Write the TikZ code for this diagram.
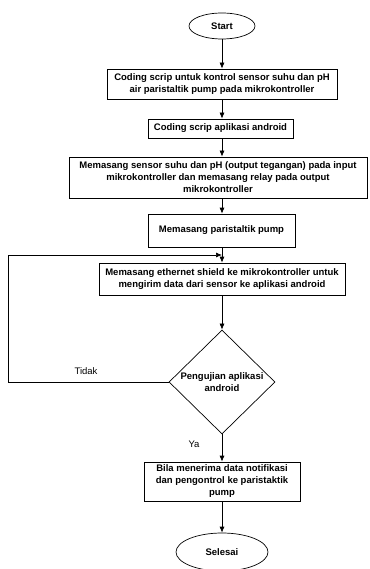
\documentclass[tikz,border=0pt]{standalone}
\usepackage{fontspec}
\setmainfont{Liberation Sans}
\usetikzlibrary{shapes.geometric, arrows.meta}

\tikzset{
  langkah/.style={draw, rectangle, align=center, inner sep=1pt, font=\fontsize{9.5}{12}\selectfont\bfseries},
  ujung/.style={draw, ellipse, inner sep=0pt, font=\fontsize{9.5}{12}\selectfont\bfseries},
  keputusan/.style={draw, diamond, aspect=1, inner sep=0pt, align=center, font=\fontsize{9.5}{12}\selectfont\bfseries},
  label/.style={font=\fontsize{9.5}{12}\selectfont},
  panah/.style={-{Latex[length=6pt, width=5pt]}, line width=0.7pt}
}

\begin{document}
\begin{tikzpicture}[x=1pt, y=-1pt, line width=0.7pt]
  %flowchart pengujian
  \useasboundingbox (0,0) rectangle (369,569);
  \node[ujung, minimum width=66pt, minimum height=26pt] (start) at (222,26) {Start};
  \node[langkah, minimum width=230pt, minimum height=30pt] (b1) at (222,84)
    {Coding scrip untuk kontrol sensor suhu dan pH\\air paristaltik pump pada mikrokontroller};
  \node[langkah, minimum width=145pt, minimum height=19pt] (b2) at (220.5,128.5)
    {Coding scrip aplikasi android};
  \node[langkah, minimum width=298pt, minimum height=41pt] (b3) at (218,177.5)
    {Memasang sensor suhu dan pH (output tegangan) pada input\\mikrokontroller dan memasang relay pada output\\mikrokontroller};
  \node[langkah, minimum width=147pt, minimum height=33pt] (b4) at (221.5,230.5)
    {Memasang paristaltik pump};
  \node[langkah, minimum width=246pt, minimum height=32pt] (b5) at (222,279)
    {Memasang ethernet shield ke mikrokontroller untuk\\mengirim data dari sensor ke aplikasi android};
  \node[keputusan, minimum width=106pt, minimum height=104pt] (uji) at (222,382)
    {Pengujian aplikasi\\android};
  \node[langkah, minimum width=156pt, minimum height=39pt] (b6) at (222,481.5)
    {Bila menerima data notifikasi\\dan pengontrol ke paristaktik\\pump};
  \node[ujung, minimum width=92pt, minimum height=38pt] (selesai) at (222,552) {Selesai};

  \coordinate (kiri) at (8,255);
  \coordinate (masuk) at (222,255);

  \draw[panah] (start) -- (b1);
  \draw[panah] (b1.south -| start) -- (b2.north -| start);
  \draw[panah] (b2.south -| start) -- (b3.north -| start);
  \draw[panah] (b3.south -| start) -- (b4.north -| start);
  \draw[panah] (b4.south -| start) -- (b5);
  \draw[panah] (b5) -- (uji);
  \draw[panah] (uji) -- (b6);
  \draw[panah] (b6) -- (selesai);
  \draw[panah] (uji.west) -| (kiri) -- (masuk);

  \node[label] (tidak) at (86,371) {Tidak};
  \node[label] (ya) at (194,444) {Ya};
\end{tikzpicture}
\end{document}
